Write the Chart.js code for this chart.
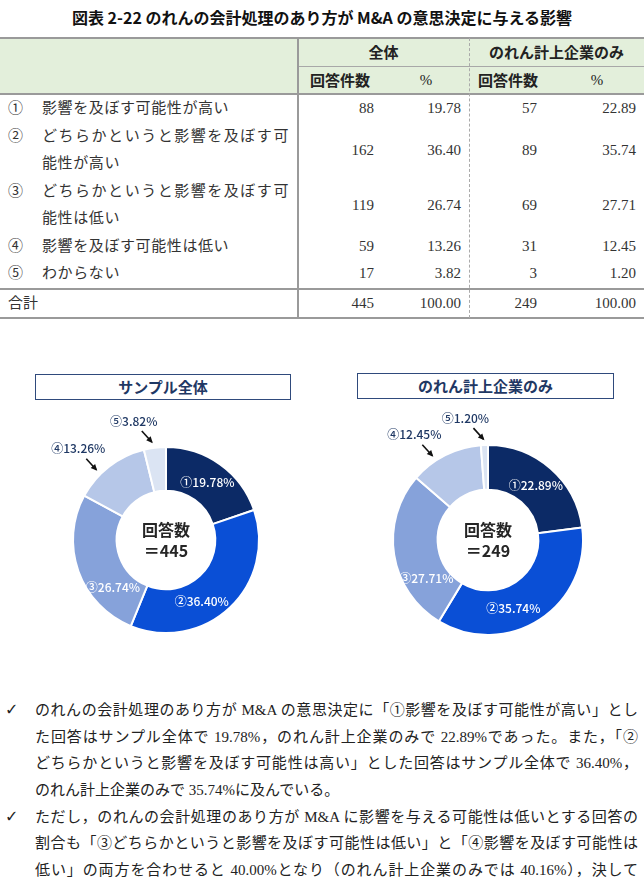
<!DOCTYPE html>
<html lang="ja">
<head>
<meta charset="utf-8">
<script src="https://cdn.jsdelivr.net/npm/chart.js@4.4.1/dist/chart.umd.min.js"></script>
<style>
body { margin: 0; width: 644px; height: 890px; background: #fff; position: relative; overflow: hidden;
       font-family: "Liberation Serif", "Noto Sans CJK JP", serif; color: #222; }
.abs { position: absolute; white-space: nowrap; }
#title { top: 5px; left: 0; width: 644px; text-align: center; line-height: 24px;
         font: bold 16px "Noto Sans CJK JP", sans-serif; color: #111; }
.hd { font: bold 15px "Noto Sans CJK JP", sans-serif; color: #222; }
.cell { font-size: 15px; color: #333; }
.num { text-align: right; }
.jl { text-align: justify; text-align-last: justify; }
.box { border: 1.5px solid #2f4a7c; box-sizing: border-box; text-align: center;
       font: bold 15px "Noto Sans CJK JP", sans-serif; color: #1f3864; line-height: 23px; }
canvas { position: absolute; }
#notes { left: 0; top: 697px; width: 644px; font-size: 15px; line-height: 26.7px; color: #222; }
.ln { position: relative; left: 35px; width: 603px; height: 26.7px; white-space: nowrap; }
.chk { position: absolute; left: -30px; top: 0; font-family: "DejaVu Sans"; font-size: 16px; font-weight: bold; }
</style>
</head>
<body>
<div id="title" class="abs">図表 2-22 のれんの会計処理のあり方が M&amp;A の意思決定に与える影響</div>
<div id="tbl"></div>
<div class="abs box" style="left:35px;top:374px;width:256px;height:26px;">サンプル全体</div>
<div class="abs box" style="left:357px;top:373px;width:257px;height:26px;">のれん計上企業のみ</div>
<canvas id="chartAll" width="280" height="280" style="left:26px;top:400px;"></canvas>
<canvas id="chartGw" width="280" height="280" style="left:348px;top:400px;"></canvas>
<div id="notes" class="abs"></div>

<script>
// data
const marks = ['①', '②', '③', '④', '⑤'];
const categories = [
    '影響を及ぼす可能性が高い',
    'どちらかというと影響を及ぼす可能性が高い',
    'どちらかというと影響を及ぼす可能性は低い',
    '影響を及ぼす可能性は低い',
    'わからない'
];
const countAll = [88, 162, 119, 59, 17];
const pctAll = [19.78, 36.40, 26.74, 13.26, 3.82];
const countGw = [57, 89, 69, 31, 3];
const pctGw = [22.89, 35.74, 27.71, 12.45, 1.20];
const totalPct = 100.00;
const sliceColors = ['#0c2a66', '#0a4fd6', '#86a2da', '#b6c7e8', '#dbe4f3'];

const sum = (a) => a.reduce((s, v) => s + v, 0);

// ---------- table ----------
let tbl = document.getElementById('tbl');

function put(html, x, y, w, h, cls, extra) {
    let d = document.createElement('div');
    d.className = 'abs ' + (cls || '');
    d.style.cssText = `left:${x}px;top:${y}px;width:${w}px;height:${h}px;line-height:${h}px;` + (extra || '');
    d.innerHTML = html;
    tbl.appendChild(d);
    return d;
}

// header background and rules
put('', 0, 38, 644, 56, '', 'background:#e3efdb;');
put('', 0, 37, 644, 2, '', 'background:#9a9a9a;');
put('', 298, 66, 346, 1, '', 'background:#a8a8a8;');
put('', 0, 93, 644, 2, '', 'background:#9a9a9a;');
put('', 0, 288, 644, 2, '', 'background:#9a9a9a;');
put('', 0, 317, 644, 2, '', 'background:#9a9a9a;');
put('', 297, 38, 1.5, 280, '', 'background:#9a9a9a;');
put('', 469, 38, 0, 280, '', 'border-left:1px dashed #aaa;');

put('全体', 298, 38, 171, 28, 'hd', 'text-align:center;');
put('のれん計上企業のみ', 469, 38, 175, 28, 'hd', 'text-align:center;');
put('回答件数', 310, 66, 70, 28, 'hd');
put('%', 406, 66, 40, 28, 'hd', 'text-align:center;font-family:\'Liberation Serif\';font-weight:normal;');
put('回答件数', 478, 66, 70, 28, 'hd');
put('%', 577, 66, 40, 28, 'hd', 'text-align:center;font-family:\'Liberation Serif\';font-weight:normal;');

const lineH = 27.5;
let y = 95;
categories.forEach((cat, i) => {
    let lines = cat.length > 15 ? [cat.slice(0, 15), cat.slice(15)] : [cat];
    let h = lines.length * lineH;
    put(marks[i], 8, y, 26, lineH, 'cell');
    lines.forEach((t, k) => {
        let last = k === lines.length - 1;
        put(t, 42, y + k * lineH, 247, lineH, 'cell' + (last ? '' : ' jl'), 'letter-spacing:0.6px;');
    });
    put(String(countAll[i]), 300, y, 74, h, 'cell num');
    put(pctAll[i].toFixed(2), 380, y, 81, h, 'cell num');
    put(String(countGw[i]), 470, y, 67, h, 'cell num');
    put(pctGw[i].toFixed(2), 540, y, 96, h, 'cell num');
    y += h;
});
put('合計', 8, 289, 100, 29, 'cell');
put(String(sum(countAll)), 300, 289, 74, 29, 'cell num');
put(totalPct.toFixed(2), 380, 289, 81, 29, 'cell num');
put(String(sum(countGw)), 470, 289, 67, 29, 'cell num');
put(totalPct.toFixed(2), 540, 289, 96, 29, 'cell num');

// ---------- doughnuts ----------
// where along each slice its label sits (0 = start, 1 = end)
const labelFrac = [0.5, 0.6, 0.27, 0.35, 0.4];

function slice_Labels(total, pcts) {
    return {
        id: 'sliceLabels',
        afterDatasetsDraw(chart) {
            let c = chart.ctx;
            let arcs = chart.getDatasetMeta(0).data;
            c.save();
            c.textAlign = 'center';
            c.textBaseline = 'middle';
            arcs.forEach((arc, i) => {
                let p = arc.getProps(['x', 'y', 'startAngle', 'endAngle', 'innerRadius', 'outerRadius'], true);
                let a = p.startAngle + labelFrac[i] * (p.endAngle - p.startAngle);
                let txt = marks[i] + pcts[i].toFixed(2) + '%';
                c.font = '500 12px "Noto Sans CJK JP", sans-serif';
                if (i < 3) {
                    let r = (p.innerRadius + p.outerRadius) / 2;
                    c.fillStyle = '#ffffff';
                    c.fillText(txt, p.x + r * Math.cos(a), p.y + r * Math.sin(a));
                } else {
                    let r = p.outerRadius + 6;
                    let tx = p.x + r * Math.cos(a), ty = p.y + r * Math.sin(a);
                    let sx = tx - 10, sy = ty - 11;
                    c.strokeStyle = '#111';
                    c.fillStyle = '#111';
                    c.lineWidth = 1.6;
                    c.beginPath();
                    c.moveTo(sx, sy);
                    c.lineTo(tx, ty);
                    c.stroke();
                    let ang = Math.atan2(ty - sy, tx - sx);
                    c.beginPath();
                    c.moveTo(tx + 1.5 * Math.cos(ang), ty + 1.5 * Math.sin(ang));
                    c.lineTo(tx - 5 * Math.cos(ang) + 3 * Math.sin(ang), ty - 5 * Math.sin(ang) - 3 * Math.cos(ang));
                    c.lineTo(tx - 5 * Math.cos(ang) - 3 * Math.sin(ang), ty - 5 * Math.sin(ang) + 3 * Math.cos(ang));
                    c.closePath();
                    c.fill();
                    c.fillStyle = '#1f3864';
                    c.fillText(txt, tx - 18, ty - 21);
                }
            });
            // centre text
            let p0 = arcs[0].getProps(['x', 'y'], true);
            c.fillStyle = '#262626';
            c.font = 'bold 16px "Noto Sans CJK JP", sans-serif';
            c.fillText('回答数', p0.x, p0.y - 10.5);
            c.fillText('＝' + total, p0.x, p0.y + 10.5);
            c.restore();
        }
    };
}

function make_Doughnut(canvas_id, pcts, counts, pad) {
    let ctx = document.getElementById(canvas_id).getContext('2d');
    return new Chart(ctx, {
        type: 'doughnut',
        data: {
            labels: categories,
            datasets: [{
                data: pcts,
                backgroundColor: sliceColors,
                borderColor: '#ffffff',
                borderWidth: 2
            }]
        },
        options: {
            responsive: false,
            animation: false,
            cutout: '53%',
            layout: { padding: pad },
            plugins: {
                legend: { display: false },
                tooltip: { enabled: false }
            }
        },
        plugins: [slice_Labels(sum(counts), pcts)]
    });
}

make_Doughnut('chartAll', pctAll, countAll, 46);
make_Doughnut('chartGw', pctGw, countGw, 44);

// ---------- notes ----------
const noteLines = [
    ['のれんの会計処理のあり方が M&amp;A の意思決定に「①影響を及ぼす可能性が高い」とし', true, true],
    ['た回答はサンプル全体で 19.78%，のれん計上企業のみで 22.89%であった。また，「②', true, false],
    ['どちらかというと影響を及ぼす可能性は高い」とした回答はサンプル全体で 36.40%，', true, false],
    ['のれん計上企業のみで 35.74%に及んでいる。', false, false],
    ['ただし，のれんの会計処理のあり方が M&amp;A に影響を与える可能性は低いとする回答の', true, true],
    ['割合も「③どちらかというと影響を及ぼす可能性は低い」と「④影響を及ぼす可能性は', true, false],
    ['低い」の両方を合わせると 40.00%となり（のれん計上企業のみでは 40.16%），決して', true, false]
];
let notes = document.getElementById('notes');
noteLines.forEach(([t, just, bullet]) => {
    let d = document.createElement('div');
    d.className = 'ln' + (just ? ' jl' : '');
    d.innerHTML = (bullet ? '<span class="chk">✓</span>' : '') + t;
    notes.appendChild(d);
});
</script>
</body>
</html>
